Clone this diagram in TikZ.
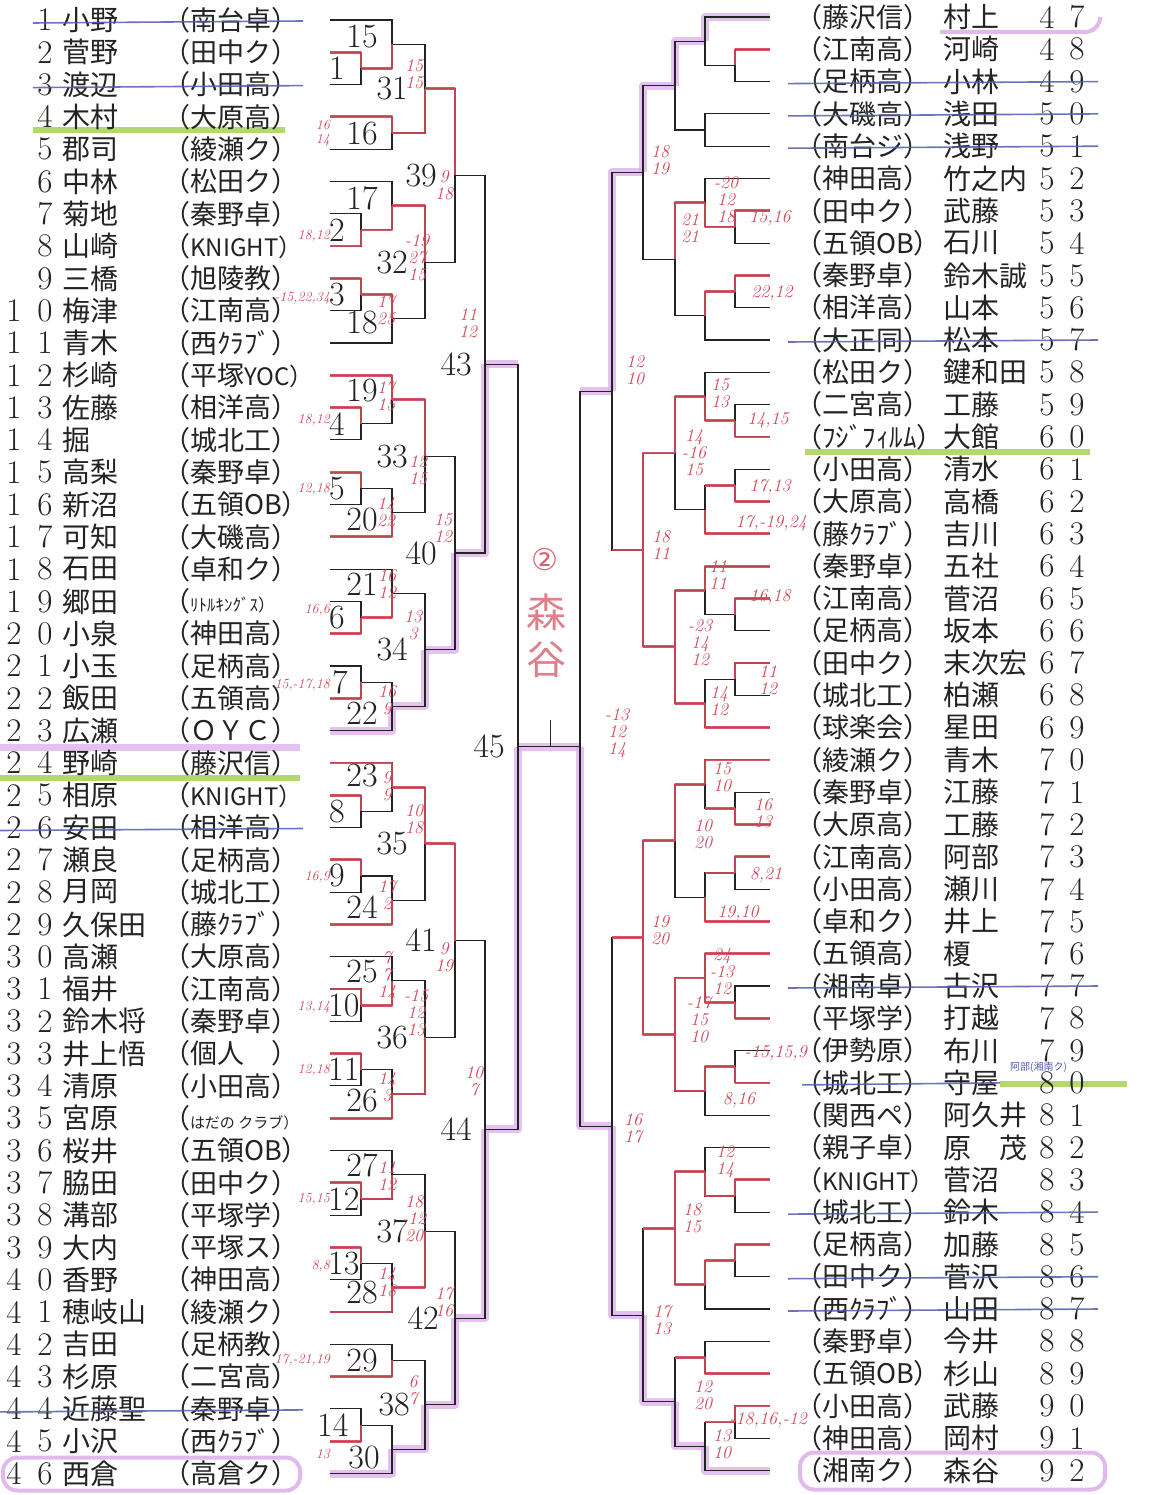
\documentclass[tikz,border=0pt]{standalone}
\usepackage{fontspec}
\newfontfamily\jp{Noto Sans CJK JP}
\newfontfamily\sym{DejaVu Sans}
\usetikzlibrary{calc}
\pgfdeclarelayer{bg}
\pgfsetlayers{bg,main}
\definecolor{ink}{RGB}{35,35,35}
\definecolor{pen}{RGB}{208,72,88}
\definecolor{hlpink}{RGB}{222,178,236}
\definecolor{hlgreen}{RGB}{172,212,96}
\definecolor{strk}{RGB}{82,92,172}

\newcommand{\mbr}[5][.5]{%
  \coordinate (#5x) at (#4,0);
  \draw[bline] (#2) -- (#2 -| #5x) -- (#3 -| #5x) -- (#3);
  \coordinate (#5) at ($(#2 -| #5x)!#1!(#3 -| #5x)$);}
\newcommand{\win}[3]{\draw[#1] (#2) -- (#2 -| #3) -- (#3);}

\begin{document}
\begin{tikzpicture}[x=1pt,y=-1pt,
    bline/.style={ink,line width=1.1pt},
    rd/.style={pen,line width=2.8pt,opacity=.9,line join=round},
    pk/.style={hlpink,line width=8pt,opacity=.8,line join=round},
    pkbox/.style={hlpink,line width=4pt,opacity=.9},
    grn/.style={hlgreen,line width=6pt,opacity=.9},
    xline/.style={strk,line width=1.6pt,opacity=.85},
    digit/.style={inner sep=0pt,text=ink,font=\fontsize{33}{33}\selectfont},
    mnum/.style={inner sep=0pt,text=ink,font=\fontsize{34}{34}\selectfont},
    pname/.style={inner sep=0pt,anchor=west,text=ink,font=\jp\fontsize{28}{28}\selectfont},
    club/.style={inner sep=0pt,anchor=west,text=ink,font=\jp\fontsize{27}{27}\selectfont},
    score/.style={inner sep=0pt,align=center,text=pen,font=\fontsize{18}{17}\selectfont\itshape},
    sside/.style={score,anchor=east,font=\fontsize{14}{14}\selectfont\itshape},
    memo/.style={inner sep=0pt,text=strk,font=\jp\fontsize{10}{10}\selectfont}]

\useasboundingbox (0,0) rectangle (1173,1495);

\foreach \i in {1,...,46}{\coordinate (L\i) at (330,{20+(\i-1)*32.3});}
\foreach \j in {47,...,92}{\coordinate (R\j) at (770,{17+(\j-47)*32.3});}

\foreach \i/\nm/\cl in {1/小野/南台卓, 2/菅野/田中ク, 3/渡辺/小田高, 4/木村/大原高, 5/郡司/綾瀬ク,
    6/中林/松田ク, 7/菊地/秦野卓, 8/山崎/{\fontsize{24}{24}\selectfont KNIGHT}, 9/三橋/旭陵教, 10/梅津/江南高,
    11/青木/西ｸﾗﾌﾞ, 12/杉崎/{平塚\fontsize{24}{24}\selectfont YOC}, 13/佐藤/相洋高, 14/掘/城北工, 15/高梨/秦野卓,
    16/新沼/五領OB, 17/可知/大磯高, 18/石田/卓和ク, 19/郷田/{\fontsize{17}{17}\selectfont ﾘﾄﾙｷﾝｸﾞｽ},
    20/小泉/神田高, 21/小玉/足柄高, 22/飯田/五領高, 23/広瀬/ＯＹＣ, 24/野崎/藤沢信,
    25/相原/{\fontsize{24}{24}\selectfont KNIGHT}, 26/安田/相洋高, 27/瀬良/足柄高, 28/月岡/城北工, 29/久保田/藤ｸﾗﾌﾞ,
    30/高瀬/大原高, 31/福井/江南高, 32/鈴木将/秦野卓, 33/井上悟/個人　, 34/清原/小田高,
    35/宮原/{\fontsize{15}{15}\selectfont はだの クラブ}, 36/桜井/五領OB, 37/脇田/田中ク,
    38/溝部/平塚学, 39/大内/平塚ス, 40/香野/神田高, 41/穂岐山/綾瀬ク, 42/吉田/足柄教,
    43/杉原/二宮高, 44/近藤聖/秦野卓, 45/小沢/西ｸﾗﾌﾞ, 46/西倉/高倉ク}{
  \pgfmathtruncatemacro\tn{\i/10}
  \pgfmathtruncatemacro\on{mod(\i,10)}
  \node[digit] (lo\i) at ([xshift=-285]L\i) {\on};
  \ifnum\tn>0 \node[digit] (lt\i) at ([xshift=-316]L\i) {\tn};\fi
  \node[pname] (lp\i) at ([xshift=-268]L\i) {\nm};
  \node[club] (lc\i) at ([xshift=-167]L\i) {（\cl）};
}

\foreach \j/\cl/\nm in {47/藤沢信/村上, 48/江南高/河崎, 49/足柄高/小林, 50/大磯高/浅田,
    51/南台ジ/浅野, 52/神田高/竹之内, 53/田中ク/武藤, 54/五領OB/石川, 55/秦野卓/鈴木誠,
    56/相洋高/山本, 57/大正同/松本, 58/松田ク/鍵和田, 59/二宮高/工藤, 60/ﾌｼﾞﾌｨﾙﾑ/大館,
    61/小田高/清水, 62/大原高/高橋, 63/藤ｸﾗﾌﾞ/吉川, 64/秦野卓/五社, 65/江南高/菅沼,
    66/足柄高/坂本, 67/田中ク/末次宏, 68/城北工/柏瀬, 69/球楽会/星田, 70/綾瀬ク/青木,
    71/秦野卓/江藤, 72/大原高/工藤, 73/江南高/阿部, 74/小田高/瀬川, 75/卓和ク/井上,
    76/五領高/榎, 77/湘南卓/古沢, 78/平塚学/打越, 79/伊勢原/布川, 80/城北工/守屋,
    81/関西ペ/阿久井, 82/親子卓/原　茂, 83/{\fontsize{24}{24}\selectfont KNIGHT}/菅沼, 84/城北工/鈴木, 85/足柄高/加藤,
    86/田中ク/菅沢, 87/西ｸﾗﾌﾞ/山田, 88/秦野卓/今井, 89/五領OB/杉山, 90/小田高/武藤,
    91/神田高/岡村, 92/湘南ク/森谷}{
  \pgfmathtruncatemacro\tn{\j/10}
  \pgfmathtruncatemacro\on{mod(\j,10)}
  \node[club] (rc\j) at ([xshift=25]R\j) {（\cl）};
  \node[pname] (rp\j) at ([xshift=173]R\j) {\nm};
  \node[digit] (rt\j) at ([xshift=277]R\j) {\tn};
  \node[digit] (ro\j) at ([xshift=307]R\j) {\on};
}

\mbr{L2}{L3}{361}{m1}
\mbr{L1}{m1}{392}{m15}
\mbr{L4}{L5}{392}{m16}
\mbr{m15}{m16}{425}{m31}
\mbr{L7}{L8}{361}{m2}
\mbr{L6}{m2}{392}{m17}
\mbr{L9}{L10}{361}{m3}
\mbr{m3}{L11}{392}{m18}
\mbr{m17}{m18}{425}{m32}
\mbr{m31}{m32}{455}{m39}
\mbr{L13}{L14}{361}{m4}
\mbr{L12}{m4}{392}{m19}
\mbr{L15}{L16}{361}{m5}
\mbr{m5}{L17}{392}{m20}
\mbr{m19}{m20}{425}{m33}
\mbr{L19}{L20}{361}{m6}
\mbr{L18}{m6}{392}{m21}
\mbr{L21}{L22}{361}{m7}
\mbr{m7}{L23}{392}{m22}
\mbr{m21}{m22}{425}{m34}
\mbr{m33}{m34}{455}{m40}
\mbr{m39}{m40}{485}{m43}
\mbr{L25}{L26}{361}{m8}
\mbr{L24}{m8}{392}{m23}
\mbr{L27}{L28}{361}{m9}
\mbr{m9}{L29}{392}{m24}
\mbr{m23}{m24}{425}{m35}
\mbr{L31}{L32}{361}{m10}
\mbr{L30}{m10}{392}{m25}
\mbr{L33}{L34}{361}{m11}
\mbr{m11}{L35}{392}{m26}
\mbr{m25}{m26}{425}{m36}
\mbr{m35}{m36}{455}{m41}
\mbr{L37}{L38}{361}{m12}
\mbr{L36}{m12}{392}{m27}
\mbr{L39}{L40}{361}{m13}
\mbr{m13}{L41}{392}{m28}
\mbr{m27}{m28}{425}{m37}
\mbr{L42}{L43}{392}{m29}
\mbr{L44}{L45}{361}{m14}
\mbr{m14}{L46}{392}{m30}
\mbr{m29}{m30}{425}{m38}
\mbr{m37}{m38}{455}{m42}
\mbr{m41}{m42}{485}{m44}
\mbr{m43}{m44}{518}{m45}

\mbr{R48}{R49}{735}{p48}
\mbr{R47}{p48}{705}{q47}
\mbr{R50}{R51}{705}{q50}
\mbr{q47}{q50}{675}{t47}
\mbr{R53}{R54}{735}{p53}
\mbr{R52}{p53}{705}{q52}
\mbr{R55}{R56}{735}{p55}
\mbr{p55}{R57}{705}{q55}
\mbr{q52}{q55}{675}{t52}
\mbr{t47}{t52}{643}{u47}
\mbr{R59}{R60}{735}{p59}
\mbr{R58}{p59}{705}{q58}
\mbr{R61}{R62}{735}{p61}
\mbr{p61}{R63}{705}{q61}
\mbr{q58}{q61}{675}{t58}
\mbr{R65}{R66}{735}{p65}
\mbr{R64}{p65}{705}{q64}
\mbr{R67}{R68}{735}{p67}
\mbr{p67}{R69}{705}{q67}
\mbr{q64}{q67}{675}{t64}
\mbr{t58}{t64}{643}{u58}
\mbr[.58]{u47}{u58}{612}{v47}
\mbr{R71}{R72}{735}{p71}
\mbr{R70}{p71}{705}{q70}
\mbr{R73}{R74}{735}{p73}
\mbr{p73}{R75}{705}{q73}
\mbr{q70}{q73}{675}{t70}
\mbr{R77}{R78}{735}{p77}
\mbr{R76}{p77}{705}{q76}
\mbr{R79}{R80}{735}{p79}
\mbr{p79}{R81}{705}{q79}
\mbr{q76}{q79}{675}{t76}
\mbr{t70}{t76}{643}{u70}
\mbr{R83}{R84}{735}{p83}
\mbr{R82}{p83}{705}{q82}
\mbr{R85}{R86}{735}{p85}
\mbr{p85}{R87}{705}{q85}
\mbr{q82}{q85}{675}{t82}
\mbr{R88}{R89}{705}{q88}
\mbr{R90}{R91}{735}{p90}
\mbr{p90}{R92}{705}{q90}
\mbr{q88}{q90}{675}{t88}
\mbr{t82}{t88}{643}{u82}
\mbr{u70}{u82}{612}{v70}

\coordinate (finx) at (580,0);
\coordinate (fin) at (m45 -| finx);
\draw[bline] (v47) -- (v47 -| finx) -- (v70 -| finx) -- (v70);
\draw[bline] (m45) -- (fin);
\coordinate (tk) at ($(m45)!.52!(fin)$);
\draw[bline] (tk) -- ++(0,-27);

\foreach \a/\b in {L2/m1, m1/m15, L4/m16, m16/m31, L8/m2, m2/m17, L9/m3, m3/m18, m17/m32,
    m31/m39, L13/m4, L12/m19, L15/m5, L17/m20, m19/m33, L20/m6, m6/m21, L22/m7,
    L25/m8, L24/m23, L27/m9, L29/m24, m23/m35, L31/m10, m10/m25, L33/m11, L35/m26,
    m26/m36, m35/m41, L37/m12, m12/m27, L39/m13, L41/m28, m28/m37, L43/m29, L45/m14,
    R48/p48, R53/p53, p53/q52, R55/p55, p55/q55, q52/t52, R60/p59, p59/q58, R62/p61,
    R63/q61, q58/t58, R65/p65, R64/q64, R67/p67, R69/q67, q64/t64, q67/t64, t58/u58,
    t64/u58, R72/p71, R70/q70, R73/p73, R75/q73, q70/t70, R78/p77, R76/q76, p77/q76,
    R80/p79, p79/q79, q76/t76, q79/t76, t70/u70, t76/u70, R83/p83, p83/q82, R85/p85,
    p85/q85, q82/t82, q85/t82, R89/q88, R90/p90}{\win{rd}{\a}{\b}}
\foreach \a/\b in {u58/v47, u70/v70, t82/u82, q88/t88, p73/q73, p71/q70, p90/q90, p61/q61}
  {\draw[rd] (\a) -- (\a -| \b);}

\foreach \k/\p/\dx/\dy in {1/m1/-32/0, 2/m2/-32/0, 3/m3/-32/0, 4/m4/-32/0, 5/m5/-32/0,
    6/m6/-32/0, 7/m7/-29/0, 8/m8/-32/0, 9/m9/-32/0, 10/m10/-33/0, 11/m11/-33/0,
    12/m12/-33/0, 13/m13/-33/0, 14/m14/-44/0}
  {\node[mnum,anchor=west] (n\k) at ([shift={(\dx,\dy)}]\p) {\k};}
\foreach \k/\p/\dx/\dy in {15/L1/32/17, 16/m16/-30/0, 17/L6/32/17, 18/L11/32/-20,
    19/L12/32/15, 20/L17/32/-17, 21/L18/32/15, 22/L23/32/-17, 23/L24/32/13,
    24/L29/32/-17, 25/L30/32/15, 26/L35/32/-18, 27/L36/32/15, 28/L41/32/-19,
    29/m29/-30/0, 30/L46/34/-16}
  {\node[mnum] (n\k) at ([shift={(\dx,\dy)}]\p) {\k};}
\foreach \k/\p/\dx in {31/m31/-17, 32/m32/-17, 33/m33/-17, 34/m34/-17, 35/m35/-17,
    36/m36/-17, 37/m37/-17, 38/m38/-15, 39/m39/-18, 40/m40/-18, 41/m41/-18,
    42/m42/-16, 43/m43/-13, 44/m44/-13, 45/m45/-13}
  {\node[mnum,anchor=east] (n\k) at ([xshift=\dx]\p) {\k};}

\foreach \x/\y/\t [count=\k] in {414/74/15\\15, 444/185/9\\18, 417/258/-19\\27\\15,
    386/310/17\\25, 468/323/11\\12, 386/396/17\\15, 418/470/12\\15, 386/512/14\\22,
    443/528/15\\12, 387/584/16\\12, 413/625/13\\3, 387/700/16\\9, 387/786/9\\9,
    414/819/10\\18, 387/895/17\\2, 444/957/9\\19, 387/976/7\\7\\14,
    416/1013/-15\\12\\13, 387/1087/14\\3, 474/1081/10\\7, 387/1176/11\\12,
    414/1219/18\\-12\\20, 387/1282/14\\18, 444/1302/17\\16, 413/1390/6\\7}
  {\node[score] (sl\k) at (\x,\y) {\t};}
\foreach \y/\t [count=\k] in {133/16\\14, 236/{18,12}, 298/{-15,22,34}, 420/{18,12},
    489/{12,18}, 610/{16,6}, 685/{15,-17,18}, 877/{16,9}, 1007/{13,14}, 1070/{12,18},
    1199/{15,15}, 1266/{8,8}, 1360/{17,-21,19}, 1454/13}
  {\node[sside] (se\k) at (330,\y) {\t};}
\foreach \x/\y/\t [count=\k] in {660/160/18\\19, 726/200/-20\\12\\18, 770/218/{15,16},
    690/228/21\\21, 772/293/{22,12}, 635/370/12\\10, 720/393/15\\13, 768/420/{14,15},
    694/453/14\\-16\\15, 770/487/{17,13}, 661/545/18\\11,
    718/575/11\\11, 770/597/{16,18}, 700/643/-23\\14\\12, 768/680/11\\12, 719/701/14\\12,
    617/733/-13\\12\\14, 722/777/15\\10, 763/813/16\\13, 703/834/10\\20, 766/875/{8,21},
    738/913/{19,10}, 660/930/19\\20, 722/972/24\\-13\\12, 699/1020/-17\\15\\10,
    739/1100/{8,16}, 633/1128/16\\17, 725/1162/12\\14,
    692/1218/18\\15, 662/1320/17\\13, 703/1395/12\\20, 722/1444/13\\10}
  {\node[score] (sr\k) at (\x,\y) {\t};}
\foreach \y/\t [count=\k] in {523/{17,-19,24}, 1053/{-15,15,9}, 1420/{-18,16,-12}}
  {\node[score,anchor=east] (sx\k) at (807,\y) {\t};}

\node[inner sep=0pt,text=pen!85,font=\sym\fontsize{30}{30}\selectfont] (circ) at (545,560) {②};
\node[inner sep=0pt,text=pen!70,font=\jp\fontsize{40}{40}\selectfont] (mori) at (546,612) {森};
\node[inner sep=0pt,text=pen!70,font=\jp\fontsize{40}{40}\selectfont] (tani) at (546,660) {谷};
\node[memo,anchor=west] (abe) at (1010,1067) {阿部(湘南ク)};

\foreach \r/\a in {1/-297, 3/-297, 26/-330, 44/-330}
  {\draw[xline] ([shift={(\a,3)}]L\r) -- ([shift={(-27,1)}]L\r);}
\foreach \r in {49,50,51,57,77,84,86,87}
  {\draw[xline] ([shift={(18,2)}]R\r) -- ([shift={(328,0)}]R\r);}
\draw[xline] ([shift={(32,2)}]R80) -- ([shift={(230,0)}]R80);

\begin{pgfonlayer}{bg}
\fill[white] (0,0) rectangle (1173,1495);
\foreach \a/\b in {L23/m22, m22/m34, m34/m40, m40/m43, L46/m30, m30/m38, m38/m42,
    m42/m44, m44/m45, R47/q47, q47/t47, t47/u47, u47/v47, R92/q90, q90/t88, t88/u82,
    u82/v70, v70/fin}{\win{pk}{\a}{\b}}
\draw[pk] (m43) -- (m43 -| m45);
\draw[pk] (m45) -- (fin);
\draw[pk] (v47) -- (v47 -| finx);
\draw[grn] ([shift={(-297,13)}]L4) -- ([shift={(-45,13)}]L4);
\draw[grn] ([shift={(-330,15)}]L24) -- ([shift={(-30,15)}]L24);
\draw[grn] ([shift={(35,15)}]R60) -- ([shift={(320,15)}]R60);
\draw[grn] ([shift={(230,1)}]R80) -- ([shift={(357,1)}]R80);
\draw[pk,line width=7pt] ([shift={(-330,17)}]L23) -- ([shift={(-30,17)}]L23);
\draw[pkbox,rounded corners=14pt] ([shift={(-327,-16)}]L46) rectangle ([shift={(-30,17)}]L46);
\draw[pkbox,rounded corners=14pt] ([shift={(30,-18)}]R92) rectangle ([shift={(335,19)}]R92);
\draw[pkbox] ([shift={(170,15)}]R47) -- ([shift={(315,15)}]R47) to[out=0,in=-90] ([shift={(330,0)}]R47);
\end{pgfonlayer}
\end{tikzpicture}
\end{document}
